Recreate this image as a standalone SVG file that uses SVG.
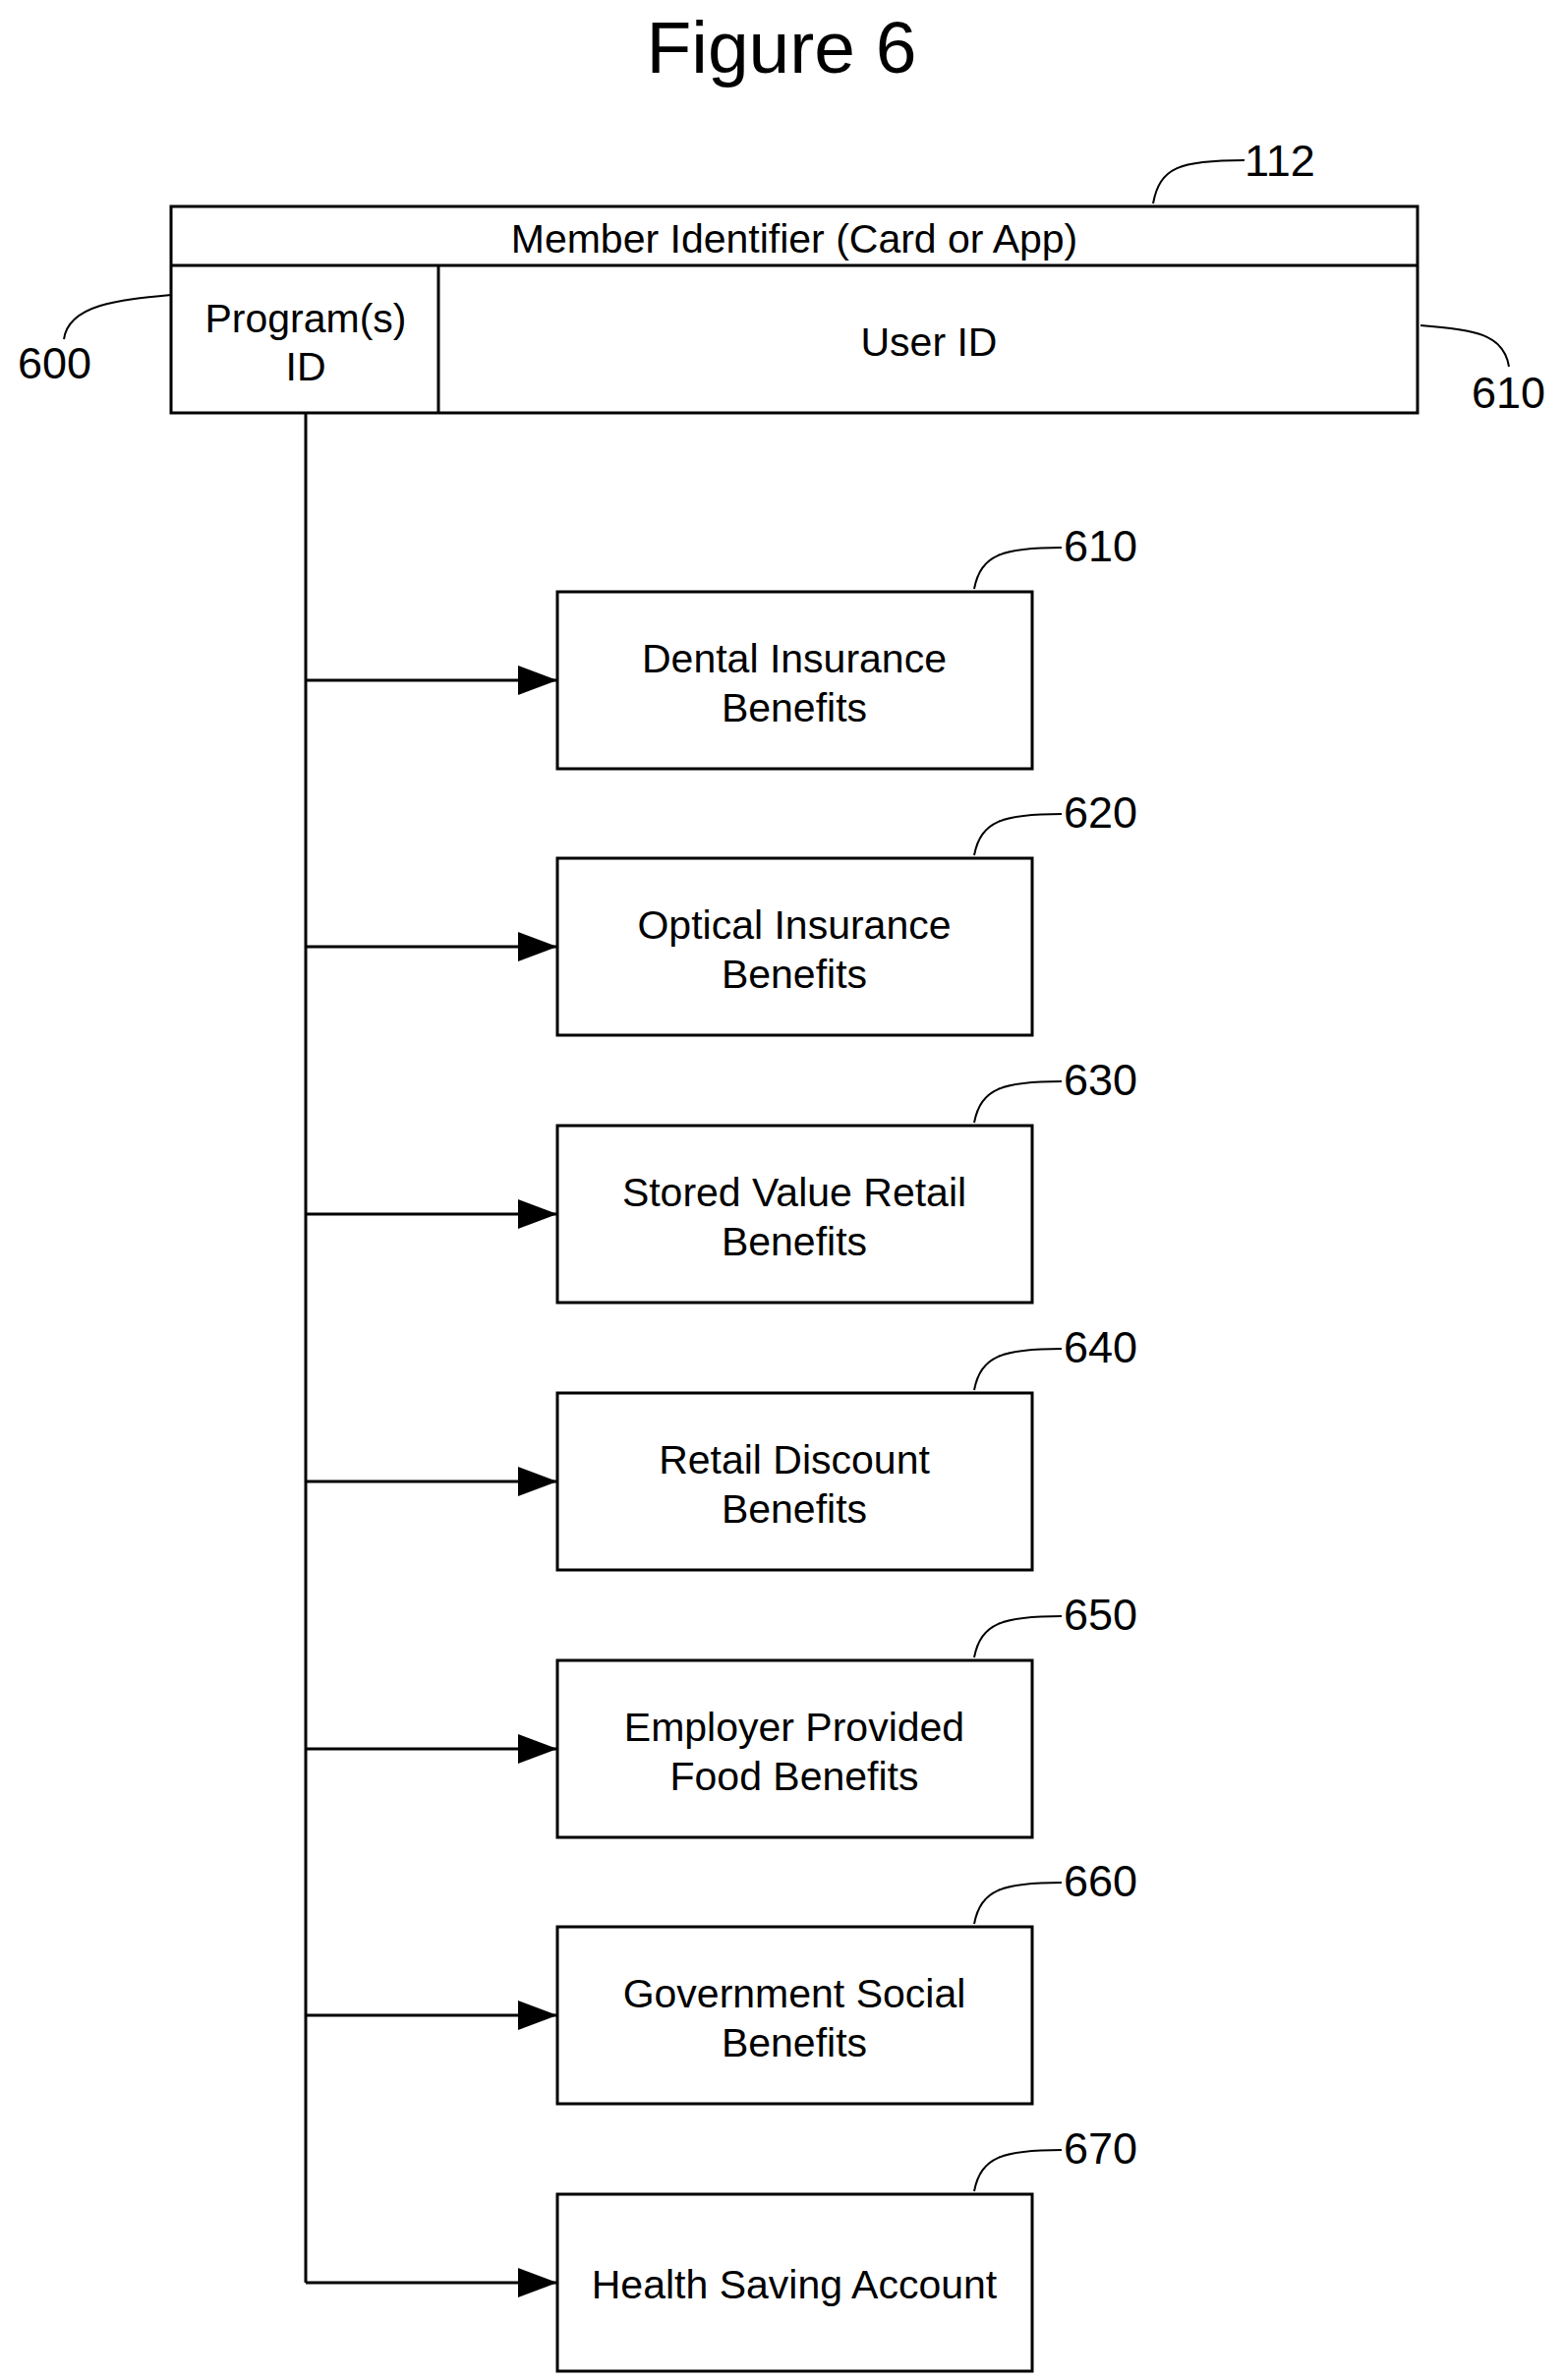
<svg xmlns="http://www.w3.org/2000/svg" width="1591" height="2421" viewBox="0 0 1591 2421">
<style>
text{font-family:"Liberation Sans",Arial,sans-serif;fill:#000}
.t{font-size:41px;text-anchor:middle;dominant-baseline:central}
.n{font-size:45px;dominant-baseline:central}
.b{fill:#fff;stroke:#000;stroke-width:3}
.l{fill:none;stroke:#000;stroke-width:3}
.ld{fill:none;stroke:#000;stroke-width:2}
</style>
<defs>
<marker id="ah" viewBox="0 0 40 30" refX="40" refY="15" markerWidth="40" markerHeight="30" markerUnits="userSpaceOnUse" orient="auto"><path d="M0,0L40,15L0,30z" fill="#000"/></marker></defs>
<text x="795" y="48" font-size="75" text-anchor="middle" dominant-baseline="central">Figure 6</text>
<g id="member">
<rect class="b" x="174" y="210" width="1268" height="210"/>
<line class="l" x1="174" y1="270" x2="1442" y2="270"/>
<line class="l" x1="446" y1="270" x2="446" y2="420"/>
<text class="t" x="808" y="243">Member Identifier (Card or App)</text>
<text class="t" x="311" y="324">Program(s)</text>
<text class="t" x="311" y="373">ID</text>
<text class="t" x="945" y="348">User ID</text>
<path class="ld" d="M1173,207 C1180,170 1200,163 1266,163"/><text class="n" x="1266" y="163">112</text>
<path class="ld" d="M174,300 C120,305 70,310 65,345"/><text class="n" x="18" y="369">600</text>
<path class="ld" d="M1445,331 C1500,335 1530,340 1535,373"/><text class="n" x="1497" y="399">610</text>
</g>
<g id="connectors">
<line class="l" x1="311" y1="420" x2="311" y2="2322"/>
<line class="l" x1="311" y1="692" x2="567" y2="692" marker-end="url(#ah)"/>
<line class="l" x1="311" y1="963" x2="567" y2="963" marker-end="url(#ah)"/>
<line class="l" x1="311" y1="1235" x2="567" y2="1235" marker-end="url(#ah)"/>
<line class="l" x1="311" y1="1507" x2="567" y2="1507" marker-end="url(#ah)"/>
<line class="l" x1="311" y1="1779" x2="567" y2="1779" marker-end="url(#ah)"/>
<line class="l" x1="311" y1="2050" x2="567" y2="2050" marker-end="url(#ah)"/>
<line class="l" x1="311" y1="2322" x2="567" y2="2322" marker-end="url(#ah)"/>
</g>
<g id="n610"><rect class="b" x="567" y="602" width="483" height="180"/><text class="t" x="808" y="670">Dental Insurance</text><text class="t" x="808" y="720">Benefits</text><path class="ld" d="M991,599 C998,564 1020,557 1080,557"/><text class="n" x="1082" y="555">610</text></g>
<g id="n620"><rect class="b" x="567" y="873" width="483" height="180"/><text class="t" x="808" y="941">Optical Insurance</text><text class="t" x="808" y="991">Benefits</text><path class="ld" d="M991,870 C998,835 1020,828 1080,828"/><text class="n" x="1082" y="826">620</text></g>
<g id="n630"><rect class="b" x="567" y="1145" width="483" height="180"/><text class="t" x="808" y="1213">Stored Value Retail</text><text class="t" x="808" y="1263">Benefits</text><path class="ld" d="M991,1142 C998,1107 1020,1100 1080,1100"/><text class="n" x="1082" y="1098">630</text></g>
<g id="n640"><rect class="b" x="567" y="1417" width="483" height="180"/><text class="t" x="808" y="1485">Retail Discount</text><text class="t" x="808" y="1535">Benefits</text><path class="ld" d="M991,1414 C998,1379 1020,1372 1080,1372"/><text class="n" x="1082" y="1370">640</text></g>
<g id="n650"><rect class="b" x="567" y="1689" width="483" height="180"/><text class="t" x="808" y="1757">Employer Provided</text><text class="t" x="808" y="1807">Food Benefits</text><path class="ld" d="M991,1686 C998,1651 1020,1644 1080,1644"/><text class="n" x="1082" y="1642">650</text></g>
<g id="n660"><rect class="b" x="567" y="1960" width="483" height="180"/><text class="t" x="808" y="2028">Government Social</text><text class="t" x="808" y="2078">Benefits</text><path class="ld" d="M991,1957 C998,1922 1020,1915 1080,1915"/><text class="n" x="1082" y="1913">660</text></g>
<g id="n670"><rect class="b" x="567" y="2232" width="483" height="180"/><text class="t" x="808" y="2324">Health Saving Account</text><path class="ld" d="M991,2229 C998,2194 1020,2187 1080,2187"/><text class="n" x="1082" y="2185">670</text></g>
</svg>
